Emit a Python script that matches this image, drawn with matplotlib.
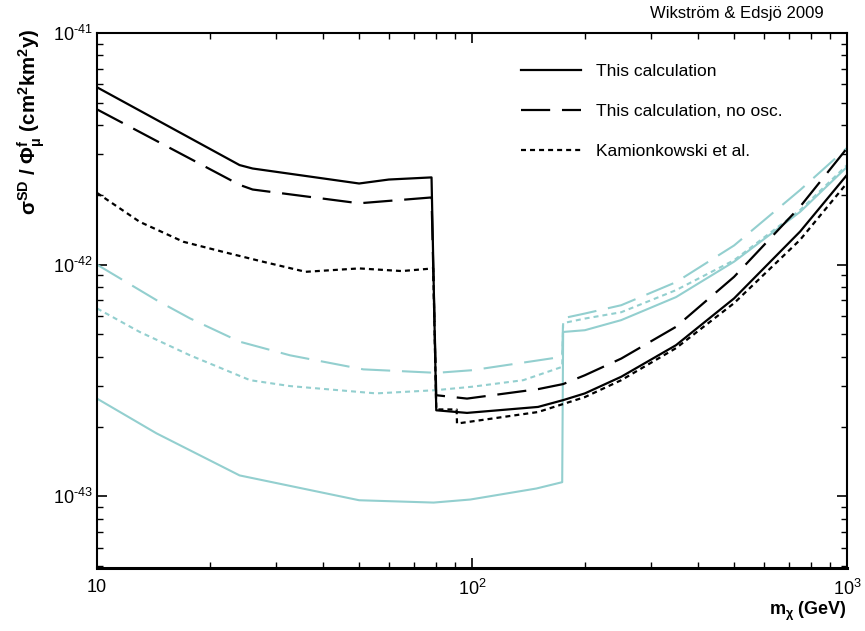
import numpy as np
import matplotlib
matplotlib.use("Agg")
import matplotlib.pyplot as plt

plt.rcParams['font.family'] = ['Liberation Sans', 'DejaVu Sans']
plt.rcParams['mathtext.fontset'] = 'custom'
plt.rcParams['mathtext.rm'] = 'Liberation Sans'
plt.rcParams['mathtext.it'] = 'Liberation Sans:italic'
plt.rcParams['mathtext.bf'] = 'Liberation Sans:bold'
plt.rcParams['lines.scale_dashes'] = False

# --- data (mass in GeV, sigma/flux) ---
# black: this calculation
m_calc = [10, 24, 26, 50, 60, 78, 80.3, 97, 150, 175, 200, 250, 350, 500, 750, 1000]
s_calc = [5.83e-42, 2.69e-42, 2.60e-42, 2.24e-42, 2.33e-42, 2.38e-42, 2.35e-43, 2.29e-43,
          2.43e-43, 2.60e-43, 2.78e-43, 3.28e-43, 4.49e-43, 7.15e-43, 1.39e-42, 2.44e-42]

m_noosc = [10, 24, 26, 50, 78, 80.3, 97, 150, 175, 200, 250, 350, 500, 750, 1000]
s_noosc = [4.68e-42, 2.21e-42, 2.11e-42, 1.84e-42, 1.95e-42, 2.73e-43, 2.64e-43, 2.90e-43,
           3.05e-43, 3.33e-43, 3.93e-43, 5.39e-43, 8.86e-43, 1.78e-42, 3.18e-42]

m_kam = [10, 13, 17, 21.7, 27.8, 36, 50, 65, 78.8, 80.3, 91, 91.2, 150, 200, 250, 350, 500, 750, 1000]
s_kam = [2.04e-42, 1.53e-42, 1.255e-42, 1.135e-42, 1.028e-42, 9.31e-43, 9.63e-43, 9.38e-43,
         9.63e-43, 2.37e-43, 2.37e-43, 2.06e-43, 2.31e-43, 2.68e-43, 3.17e-43, 4.36e-43,
         6.82e-43, 1.28e-42, 2.25e-42]

# cyan: second set of curves
m_c_calc = [10, 14.4, 24, 50, 79, 99, 148.5, 174, 175, 200, 250, 350, 500, 750, 1000]
s_c_calc = [2.64e-43, 1.87e-43, 1.23e-43, 9.61e-44, 9.39e-44, 9.68e-44, 1.08e-43, 1.15e-43,
            5.12e-43, 5.21e-43, 5.76e-43, 7.24e-43, 1.03e-42, 1.69e-42, 2.64e-42]

m_c_noosc = [10, 14.4, 17.7, 24, 32.7, 51.3, 80.4, 100, 174, 175, 200, 250, 350, 500, 750, 1000]
s_c_noosc = [1.0e-42, 7.03e-43, 5.86e-43, 4.65e-43, 4.06e-43, 3.53e-43, 3.41e-43, 3.50e-43,
             4.0e-43, 5.87e-43, 6.15e-43, 6.68e-43, 8.40e-43, 1.21e-42, 2.10e-42, 3.19e-42]

m_c_kam = [10, 13, 17.7, 25.6, 32.7, 55.5, 80, 100, 137, 174, 175, 200, 250, 350, 500, 750, 1000]
s_c_kam = [6.47e-43, 5.12e-43, 4.06e-43, 3.17e-43, 2.99e-43, 2.78e-43, 2.87e-43, 2.97e-43,
           3.17e-43, 3.62e-43, 5.59e-43, 5.85e-43, 6.23e-43, 7.76e-43, 1.045e-42, 1.72e-42, 2.69e-42]

labels = ['This calculation', 'This calculation, no osc.', 'Kamionkowski et al.']

cyan = '#93cfcf'
solid = '-'
longdash = (0, (21, 8.5))
shortdot = (0, (3.6, 2.9))

fig = plt.figure(figsize=(8.65, 6.31), dpi=100)
ax = fig.add_axes([97/865, 63/631, 750/865, 535/631])

ax.plot(m_c_calc, s_c_calc, color=cyan, lw=1.5, ls=solid)
ax.plot(m_c_noosc, s_c_noosc, color=cyan, lw=1.5, ls=longdash)
ax.plot(m_c_kam, s_c_kam, color=cyan, lw=1.5, ls=shortdot)

ax.plot(m_calc, s_calc, color='k', lw=1.6, ls=solid, label=labels[0])
ax.plot(m_noosc, s_noosc, color='k', lw=1.6, ls=longdash, label=labels[1])
ax.plot(m_kam, s_kam, color='k', lw=1.6, ls=shortdot, label=labels[2])

ax.set_xscale('log')
ax.set_yscale('log')
ax.set_xlim(10, 1000)
ax.set_ylim(4.9e-44, 1e-41)

ax.set_xticks([10, 100, 1000])
ax.set_xticklabels(['10', r'$10^{2}$', r'$10^{3}$'])
ax.set_yticks([1e-43, 1e-42, 1e-41])
ax.set_yticklabels([r'$10^{\text{-43}}$', r'$10^{\text{-42}}$', r'$10^{\text{-41}}$'])

ax.tick_params(which='both', direction='in', top=True, right=True, labelsize=13)
ax.tick_params(which='major', length=7, width=1.2)
ax.tick_params(which='minor', length=4, width=1.0)
ax.tick_params(axis='x', which='major', pad=8)
ax.tick_params(axis='y', which='major', pad=3)
for sp in ax.spines.values():
    sp.set_linewidth(1.5)
ax.spines['bottom'].set_linewidth(2.2)

ax.set_xlabel(r'm$_{\mathbf{\chi}}$ (GeV)', fontsize=13, fontweight='bold')
ax.xaxis.set_label_coords(1.0, -0.082)
ax.xaxis.label.set_horizontalalignment('right')
ax.xaxis.label.set_verticalalignment('center')

ax.set_ylabel(r'σ$^{\mathbf{SD}}$ / Φ$^{\mathbf{f}}_{\mathbf{μ}}$ (cm$^{\mathbf{2}}$km$^{\mathbf{2}}$y)',
              fontsize=14.8, fontweight='bold')
ax.yaxis.set_label_coords(-0.088, 0.835)
ax.yaxis.label.set_verticalalignment('center')

ax.legend(loc='upper left', bbox_to_anchor=(0.544, 0.972), frameon=False, fontsize=12.5,
          handlelength=3.5, handletextpad=0.86, labelspacing=1.45)

fig.text(0.9526, 0.978, 'Wikström & Edsjö 2009', ha='right', va='center', fontsize=12)

fig.savefig('out.png', dpi=100)
